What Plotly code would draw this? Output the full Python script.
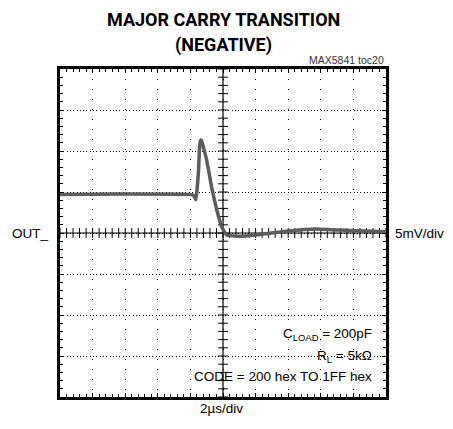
import numpy as np
import plotly.graph_objects as go

# Data (time in µs, output in mV relative to centre)
time_us = [0, 4, 8, 8.2, 8.34, 8.44, 8.5, 8.56, 8.6, 8.64, 8.7, 8.76, 9.0,
           9.3, 9.62, 9.92, 10.22, 11, 12, 14, 15.7, 17.8, 20]
out_mv = [4.7, 4.75, 4.7, 4.6, 4.05, 6.0, 7.7, 10.4, 11.1, 11.35, 11.2, 10.75,
          8.9, 5.6, 2.8, 0.75, -0.25, -0.4, -0.25, 0.25, 0.5, 0.3, 0.15]

title_text = "MAJOR CARRY TRANSITION<br>(NEGATIVE)"
x_div_label = "2µs/div"
y_div_label = "5mV/div"
channel_label = "OUT_"

X_DIV = 2.0   # µs per division
Y_DIV = 5.0   # mV per division
X0, X1 = 0.0, 20.0
Y0, Y1 = -20.0, 20.0
XC, YC = 10.0, 0.0

FONT = "Liberation Sans, Arial, sans-serif"
TITLE_FONT = "Roboto, Liberation Sans, sans-serif"

# page body has an 8px margin; window-pixel plot box is x 60..386, y 69..397
OFF = 8
W, H = 453 - OFF, 429 - OFF
PL, PR, PT, PB = 60, 386, 69, 397

fig = go.Figure()

# graticule minor ticks on the centre cross
mx = np.arange(X0, X1 + 1e-9, X_DIV / 5)
my = np.arange(Y0, Y1 + 1e-9, Y_DIV / 5)
fig.add_trace(go.Scatter(x=mx, y=[YC] * len(mx), mode="markers",
                         marker=dict(symbol="line-ns", size=7,
                                     line=dict(color="black", width=1)),
                         hoverinfo="skip", showlegend=False))
fig.add_trace(go.Scatter(x=[XC] * len(my), y=my, mode="markers",
                         marker=dict(symbol="line-ew", size=7,
                                     line=dict(color="black", width=1)),
                         hoverinfo="skip", showlegend=False))

# the waveform
fig.add_trace(go.Scatter(x=time_us, y=out_mv, mode="lines",
                         line=dict(color="#5c5c5c", width=3.5, shape="spline",
                                   smoothing=0.3),
                         showlegend=False, hoverinfo="skip"))

# centre cross lines
fig.add_shape(type="line", x0=X0, x1=X1, y0=YC, y1=YC,
              line=dict(color="black", width=1.2), layer="below")
fig.add_shape(type="line", x0=XC, x1=XC, y0=Y0, y1=Y1,
              line=dict(color="black", width=1.2), layer="below")

axis_common = dict(showticklabels=False, ticks="inside", ticklen=4,
                   tickwidth=1, tickcolor="black",
                   showgrid=True, gridcolor="black", gridwidth=1,
                   zeroline=False, showline=True, linecolor="black",
                   linewidth=3, mirror="ticks", fixedrange=True)

fig.update_layout(
    width=W, height=H,
    margin=dict(l=PL - OFF, r=W - (PR - OFF), t=PT - OFF, b=H - (PB - OFF)),
    paper_bgcolor="white", plot_bgcolor="white",
    showlegend=False,
    xaxis=dict(range=[X0, X1], dtick=X_DIV, tick0=X0, griddash="1px,9px",
               minor=dict(dtick=X_DIV / 5, tick0=X0, ticks="inside",
                          ticklen=3, tickcolor="black", showgrid=False),
               **axis_common),
    yaxis=dict(range=[Y0, Y1], dtick=Y_DIV, tick0=Y0, griddash="1px,2.3px",
               minor=dict(dtick=Y_DIV / 5, tick0=Y0, ticks="inside",
                          ticklen=3, tickcolor="black", showgrid=False),
               **axis_common),
    font=dict(family=FONT, color="black"),
)

# annotations positioned in window pixels, converted to plot-area fractions
annots = [
    dict(text="<b>MAJOR CARRY TRANSITION</b>", x=223, y=19,
         font=dict(size=18, family=TITLE_FONT, weight=900)),
    dict(text="<b>(NEGATIVE)</b>", x=223, y=45,
         font=dict(size=18, family=TITLE_FONT, weight=900)),
    dict(text="MAX5841 toc20", x=386, y=60, xanchor="right",
         font=dict(size=10.5, color="#333")),
    dict(text=channel_label, x=10, y=233, xanchor="left", font=dict(size=13.5)),
    dict(text=y_div_label, x=393, y=233, xanchor="left", font=dict(size=13.5)),
    dict(text=x_div_label, x=221, y=408, font=dict(size=13.5)),
    dict(text="C<sub>LOAD</sub> = 200pF", x=374, y=334, xanchor="right",
         font=dict(size=13.5)),
    dict(text="R<sub>L</sub> = 5kΩ", x=374, y=356, xanchor="right",
         font=dict(size=13.5)),
    dict(text="CODE = 200 hex TO 1FF hex", x=374, y=376, xanchor="right",
         font=dict(size=13.5)),
]
for a in annots:
    fig.add_annotation(text=a["text"],
                       x=(a["x"] - PL) / (PR - PL),
                       y=(PB - a["y"]) / (PB - PT),
                       xref="paper", yref="paper",
                       xanchor=a.get("xanchor", "center"), yanchor="middle",
                       showarrow=False, font=a["font"])

fig.write_html("out.html")
